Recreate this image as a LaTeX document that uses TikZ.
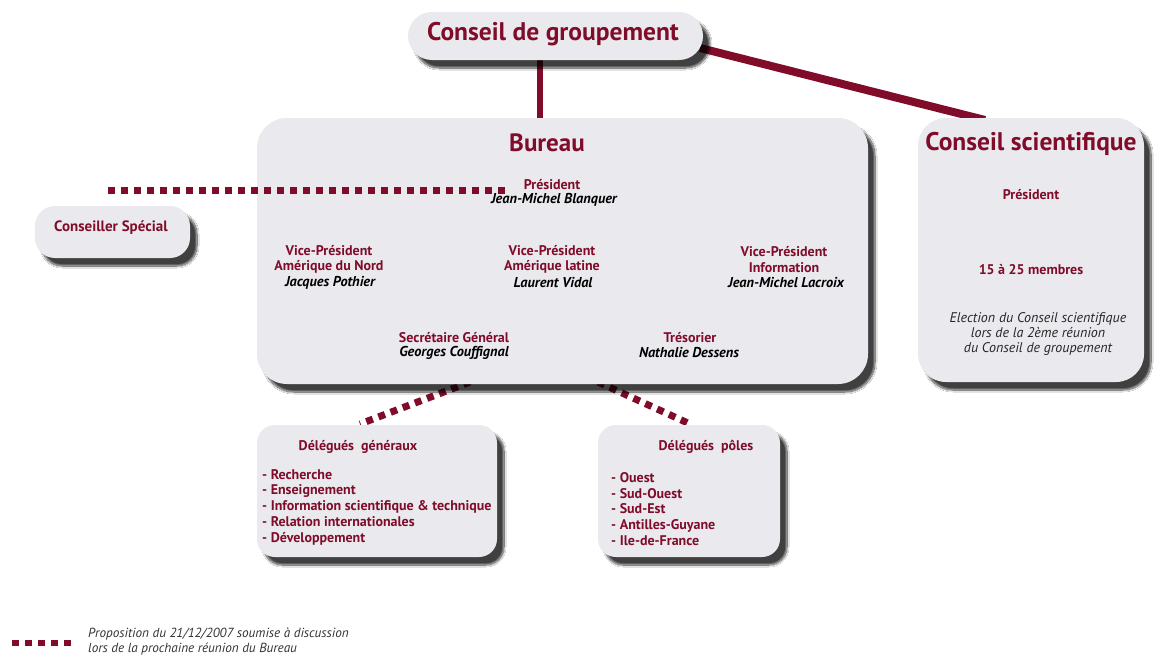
\documentclass[tikz,border=0pt]{standalone}
\usepackage{fontspec}
\setmainfont{PT Sans}
\usetikzlibrary{shadows.blur,calc}
\definecolor{bordeaux}{RGB}{128,12,42}
\definecolor{boxgrey}{RGB}{234,234,238}
\tikzset{
  panel/.style={draw=none,fill=boxgrey,blur shadow={shadow xshift=7pt,shadow yshift=-8pt,shadow blur steps=14,shadow opacity=75}},
  ttl/.style={text=bordeaux,font=\bfseries\fontsize{14}{15.5}\selectfont,align=center,inner sep=0pt},
  nm/.style={text=black,font=\bfseries\itshape\fontsize{14.3}{15.5}\selectfont,align=center,inner sep=0pt},
  bigttl/.style={text=bordeaux,font=\bfseries\fontsize{25.5}{30}\selectfont,inner sep=0pt},
  solidlink/.style={draw=bordeaux,line width=6pt},
  dotlink/.style={draw=bordeaux,line width=7pt,dash pattern=on 7pt off 6pt},
  lst/.style={text=bordeaux,font=\bfseries\fontsize{14}{15.8}\selectfont,align=left,anchor=north west,inner sep=0pt},
}
\begin{document}
\begin{tikzpicture}[x=1pt,y=-1pt]
\path[use as bounding box,fill=white] (0,0) rectangle (1165,659);
% connectors behind boxes
\coordinate (cgr) at (700,48);
\coordinate (csn) at (985,120);
\draw[bordeaux,line width=8pt] (cgr) -- (csn);
\coordinate (cgb) at (540,55);
\coordinate (bun) at (540,122);
\draw[solidlink] (cgb) -- (bun);
\coordinate (b1) at (470,382);
\coordinate (d1) at (360,424);
\coordinate (b2) at (598,382);
\coordinate (d2) at (690,424);
\draw[dotlink] (b1) -- (d1);
\draw[dotlink] (b2) -- (d2);
% boxes
\node[panel,rounded corners=24pt,minimum width=295pt,minimum height=48pt] (cg) at (555.5,36) {};
\node[bigttl] at (553,34) {Conseil de groupement};
\node[panel,rounded corners=30pt,minimum width=611pt,minimum height=266pt] (bureau) at (562.5,251) {};
\node[panel,rounded corners=28pt,minimum width=226pt,minimum height=264pt] (cs) at (1031,250) {};
\node[panel,rounded corners=20pt,minimum width=155pt,minimum height=52pt] (spec) at (112.5,232) {};
\node[panel,rounded corners=18pt,minimum width=240pt,minimum height=132pt] (dg) at (377,491) {};
\node[panel,rounded corners=18pt,minimum width=182pt,minimum height=132pt] (dp) at (689,491) {};
% dotted link to conseiller
\coordinate (sp) at (108,190);
\coordinate (pr) at (511,190);
\draw[dotlink] (sp) -- (pr);
% Bureau contents
\node[bigttl,font=\bfseries\fontsize{25}{30}\selectfont] (bt) at (547,143) {Bureau};
\node[ttl] (pres) at (552,185) {Président};
\node[nm] (presn) at (554,200) {Jean-Michel Blanquer};
\node[ttl] (vp1) at (329,259.5) {Vice-Président\\Amérique du Nord};
\node[nm] (vp1n) at (330,283) {Jacques Pothier};
\node[ttl] (vp2) at (552,259.5) {Vice-Président\\Amérique latine};
\node[nm] (vp2n) at (553,283) {Laurent Vidal};
\node[ttl] (vp3) at (784,259.5) {Vice-Président\\Information};
\node[nm] (vp3n) at (786,283) {Jean-Michel Lacroix};
\node[ttl] (sg) at (454,338) {Secrétaire Général};
\node[nm] (sgn) at (454,353) {Georges Couffignal};
\node[ttl] (tr) at (690,338) {Trésorier};
\node[nm] (trn) at (689,353) {Nathalie Dessens};
% Conseil scientifique
\node[bigttl] (cst) at (1031,144) {Conseil scientifique};
\node[ttl] (csp) at (1031,195) {Président};
\node[ttl] (csm) at (1031,270) {15 à 25 membres};
\node[font=\itshape\fontsize{14}{15}\selectfont,align=center,inner sep=0pt,text=black!85] (cse) at (1038,334) {Election du Conseil scientifique\\lors de la 2ème réunion\\du Conseil de groupement};
% Conseiller
\node[ttl,font=\bfseries\fontsize{15}{18}\selectfont] (spt) at (111,228) {Conseiller Spécial};
% Délégués généraux
\node[ttl] (dgt) at (358,447) {Délégués\ \ généraux};
\node[lst] (dgl) at (262,469) {- Recherche\\- Enseignement\\- Information scientifique \& technique\\- Relation internationales\\- Développement};
% Délégués pôles
\node[ttl] (dpt) at (706,447) {Délégués\ \ pôles};
\node[lst] (dpl) at (611,472) {- Ouest\\- Sud-Ouest\\- Sud-Est\\- Antilles-Guyane\\- Ile-de-France};
% legend
\coordinate (la) at (12,643);
\coordinate (lb) at (75,643);
\draw[bordeaux,line width=6pt,dash pattern=on 7pt off 6pt] (la) -- (lb);
\node[font=\itshape\fontsize{13.2}{15}\selectfont,align=left,anchor=west,inner sep=0pt,text=black!80] (leg) at (88,641.5) {Proposition du 21/12/2007 soumise à discussion\\lors de la prochaine réunion du Bureau};
\end{tikzpicture}
\end{document}
